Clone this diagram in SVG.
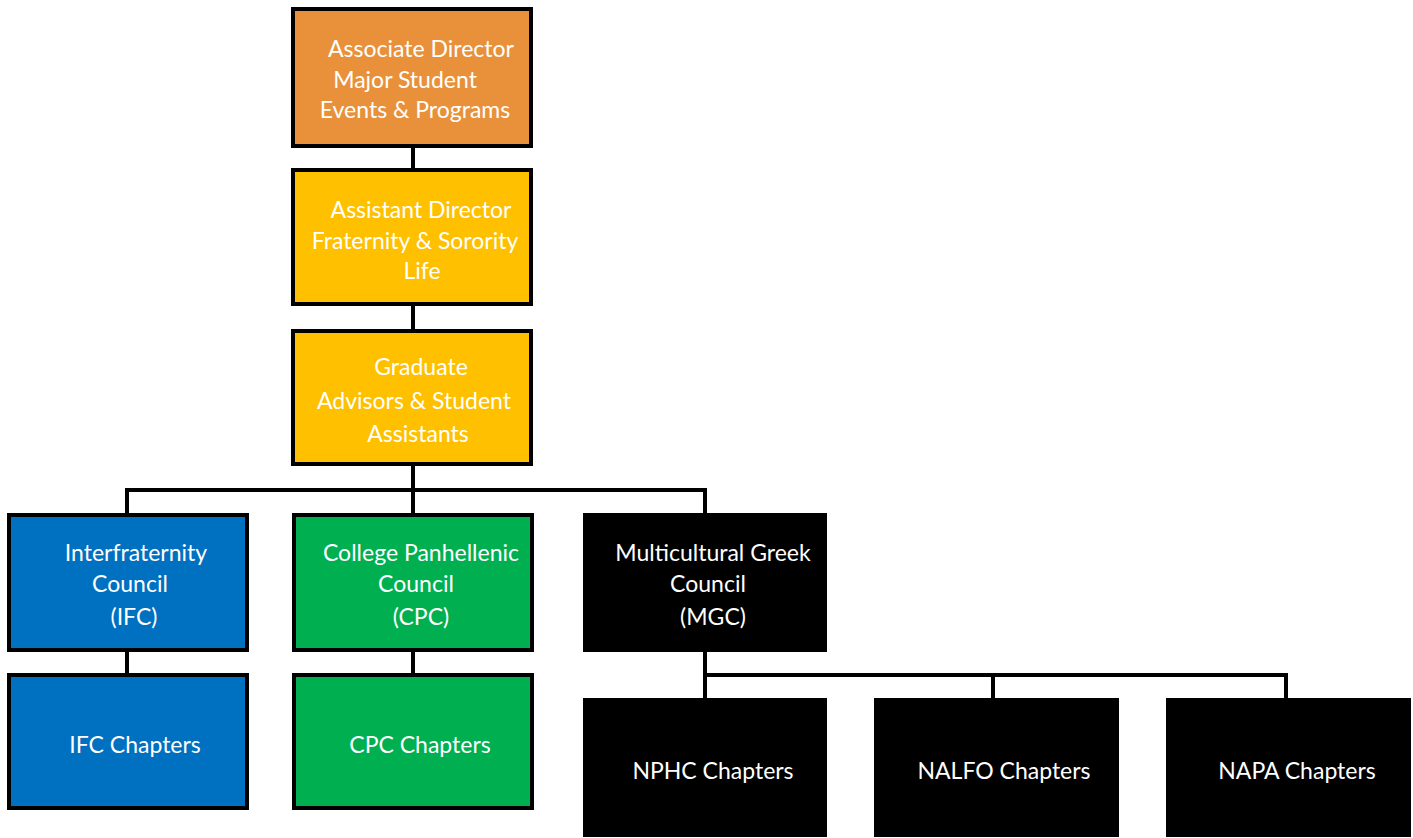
<svg xmlns="http://www.w3.org/2000/svg" width="1413" height="838" viewBox="0 0 1413 838">
<style>
.box{stroke:#000;stroke-width:4}
.t{font-family:Lato,"Open Sans","Liberation Sans",sans-serif;font-size:23px;fill:#fff;text-anchor:middle}
.c{stroke:#000;stroke-width:4;fill:none}
</style>
<rect width="1413" height="838" fill="#fff"/>
<g id="connectors">
<path class="c" d="M413 146V168M413 305V329M413 465V513M127 490H705M127 488V513M705 488V513M127 651V673M413 651V673M705 651V698M705 675H1286M993 673V698M1286 673V698"/>
</g>
<g id="n1"><rect class="box" x="293" y="9" width="238" height="137" fill="#E8913A"/>
<text class="t" x="421" y="57">Associate Director</text><text class="t" x="405" y="88">Major Student</text><text class="t" x="415" y="118">Events &amp; Programs</text></g>
<g id="n2"><rect class="box" x="293" y="170" width="238" height="134" fill="#FFC000"/>
<text class="t" x="421" y="218">Assistant Director</text><text class="t" x="415" y="249">Fraternity &amp; Sorority</text><text class="t" x="422" y="279">Life</text></g>
<g id="n3"><rect class="box" x="293" y="331" width="238" height="133" fill="#FFC000"/>
<text class="t" x="421" y="375">Graduate</text><text class="t" x="414" y="409">Advisors &amp; Student</text><text class="t" x="418" y="442">Assistants</text></g>
<g id="ifc"><rect class="box" x="9" y="515" width="238" height="135" fill="#0070C0"/>
<text class="t" x="136" y="561">Interfraternity</text><text class="t" x="130" y="592">Council</text><text class="t" x="134" y="625">(IFC)</text></g>
<g id="cpc"><rect class="box" x="294" y="515" width="238" height="135" fill="#00B050"/>
<text class="t" x="421" y="561">College Panhellenic</text><text class="t" x="416" y="592">Council</text><text class="t" x="421" y="625">(CPC)</text></g>
<g id="mgc"><rect class="box" x="585" y="515" width="240" height="135" fill="#000"/>
<text class="t" x="713" y="561">Multicultural Greek</text><text class="t" x="708" y="592">Council</text><text class="t" x="713" y="625">(MGC)</text></g>
<g id="ifcch"><rect class="box" x="9" y="675" width="238" height="133" fill="#0070C0"/>
<text class="t" x="135" y="753">IFC Chapters</text></g>
<g id="cpcch"><rect class="box" x="294" y="675" width="238" height="133" fill="#00B050"/>
<text class="t" x="420" y="753">CPC Chapters</text></g>
<g id="nphc"><rect class="box" x="585" y="700" width="240" height="135" fill="#000"/>
<text class="t" x="713" y="779">NPHC Chapters</text></g>
<g id="nalfo"><rect class="box" x="876" y="700" width="241" height="135" fill="#000"/>
<text class="t" x="1004" y="779">NALFO Chapters</text></g>
<g id="napa"><rect class="box" x="1168" y="700" width="241" height="135" fill="#000"/>
<text class="t" x="1297" y="779">NAPA Chapters</text></g>
</svg>
